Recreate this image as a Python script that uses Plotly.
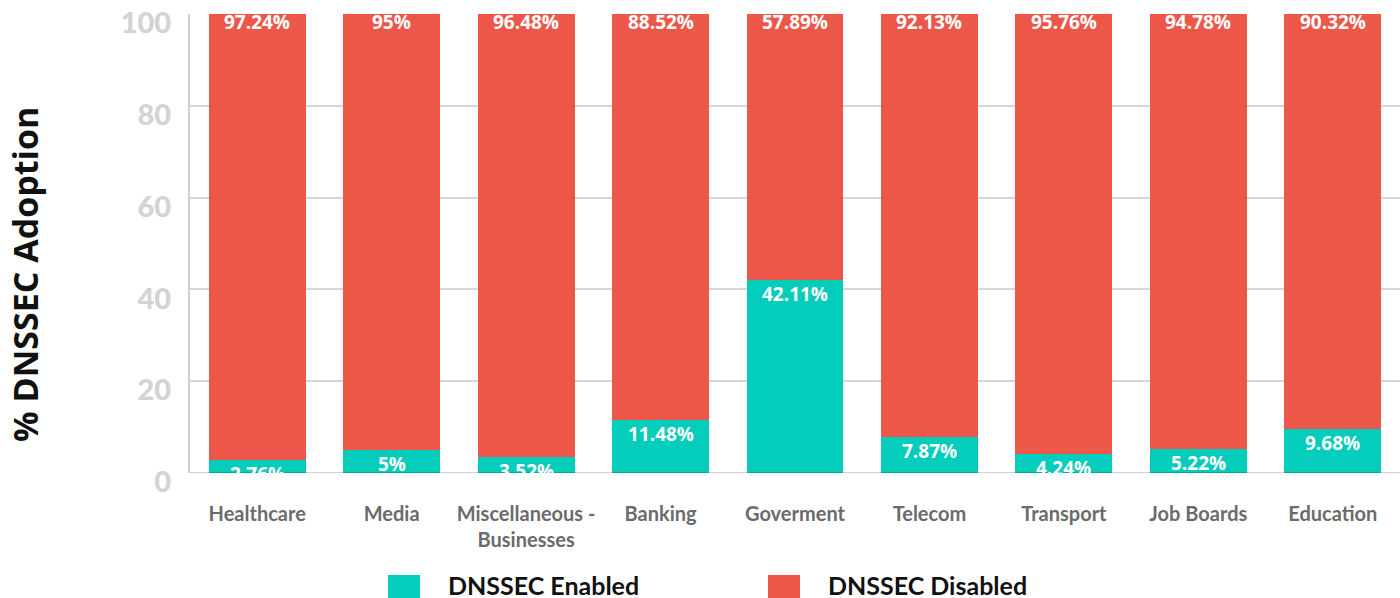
import plotly.graph_objects as go

# Sector names and DNSSEC shares (%)
categories = ["Healthcare", "Media", "Miscellaneous - Businesses", "Banking",
              "Goverment", "Telecom", "Transport", "Job Boards", "Education"]
tick_text = ["Healthcare", "Media", "Miscellaneous -<br>Businesses", "Banking",
             "Goverment", "Telecom", "Transport", "Job Boards", "Education"]
enabled = [2.76, 5, 3.52, 11.48, 42.11, 7.87, 4.24, 5.22, 9.68]
disabled = [97.24, 95, 96.48, 88.52, 57.89, 92.13, 95.76, 94.78, 90.32]
enabled_labels = ["2.76%", "5%", "3.52%", "11.48%", "42.11%", "7.87%", "4.24%", "5.22%", "9.68%"]
disabled_labels = ["97.24%", "95%", "96.48%", "88.52%", "57.89%", "92.13%", "95.76%", "94.78%", "90.32%"]
y_ticks = [0, 20, 40, 60, 80, 100]

TEAL = "#04CDBB"
RED = "#EC574A"
FONT = "Lato"

fig = go.Figure()
fig.add_trace(go.Bar(x=categories, y=enabled, name="DNSSEC Enabled",
                     marker=dict(color=TEAL, line=dict(width=0))))
fig.add_trace(go.Bar(x=categories, y=disabled, name="DNSSEC Disabled",
                     marker=dict(color=RED, line=dict(width=0))))

W, H = 1400, 598
L, R, T, B = 190, 0, 14, 125
pw, ph = W - L - R, H - T - B


def px_x(x):
    return (x - L) / pw


def px_y(y_from_top):
    return (H - y_from_top - B) / ph


annotations = []
# value labels: enabled share just inside the top of the teal segment
for cat, val, txt in zip(categories, enabled, enabled_labels):
    annotations.append(dict(x=cat, y=val, xref="x", yref="y", text=f"<b>{txt}</b>",
                            showarrow=False, yanchor="top", yshift=1,
                            font=dict(family="Open Sans", size=19, color="white")))
# disabled share at the top of each stacked bar
for cat, a, b, txt in zip(categories, enabled, disabled, disabled_labels):
    annotations.append(dict(x=cat, y=a + b, xref="x", yref="y", text=f"<b>{txt}</b>",
                            showarrow=False, yanchor="top", yshift=7,
                            font=dict(family="Open Sans", size=19, color="white")))

# axis title
annotations.append(dict(x=px_x(25), y=px_y(275), xref="paper", yref="paper",
                        text="<b>% DNSSEC Adoption</b>",
                        showarrow=False, textangle=-90, xanchor="center", yanchor="middle",
                        font=dict(family="Open Sans", size=34, color="#111111")))

# legend drawn along the bottom edge
legend_items = [("DNSSEC Enabled", TEAL, 388), ("DNSSEC Disabled", RED, 768)]
shapes = []
for label, color, x0 in legend_items:
    shapes.append(dict(type="rect", xref="paper", yref="paper",
                       x0=px_x(x0), x1=px_x(x0 + 32), y0=px_y(599), y1=px_y(575),
                       fillcolor=color, line=dict(width=0)))
    annotations.append(dict(x=px_x(x0 + 58), y=px_y(585), xref="paper", yref="paper",
                            text=f"<b>{label}</b>",
                            showarrow=False, xanchor="left", yanchor="middle",
                            font=dict(family=FONT, size=25, color="#111111")))

# baseline over the bars
shapes.append(dict(type="line", xref="paper", yref="y", x0=0, x1=1, y0=0, y1=0,
                   line=dict(color="rgba(0,0,0,0.18)", width=2), layer="above"))

fig.update_layout(
    width=W, height=H,
    barmode="stack", bargap=0.28,
    plot_bgcolor="white", paper_bgcolor="white",
    margin=dict(l=L, r=R, t=T, b=B, pad=0),
    showlegend=False,
    annotations=annotations,
    shapes=shapes,
    font=dict(family=FONT),
)
fig.update_xaxes(
    tickmode="array", tickvals=categories, ticktext=tick_text,
    tickfont=dict(family=FONT, size=20, color="#6b6b6b", weight="bold"),
    ticks="", showgrid=False, showline=False, ticklabelstandoff=27,
)
fig.update_yaxes(
    range=[0, 100], tickvals=y_ticks,
    tickfont=dict(family=FONT, size=29, color="#d3d3d3", weight=900),
    showgrid=True, gridcolor="#d6d6d6", gridwidth=2,
    showline=True, linecolor="#d0d0d0", linewidth=2,
    zeroline=False, ticks="", ticklabelstandoff=11, ticklabelshift=9,
    ticklabeloverflow="allow",
)

fig.write_html("out.html")
